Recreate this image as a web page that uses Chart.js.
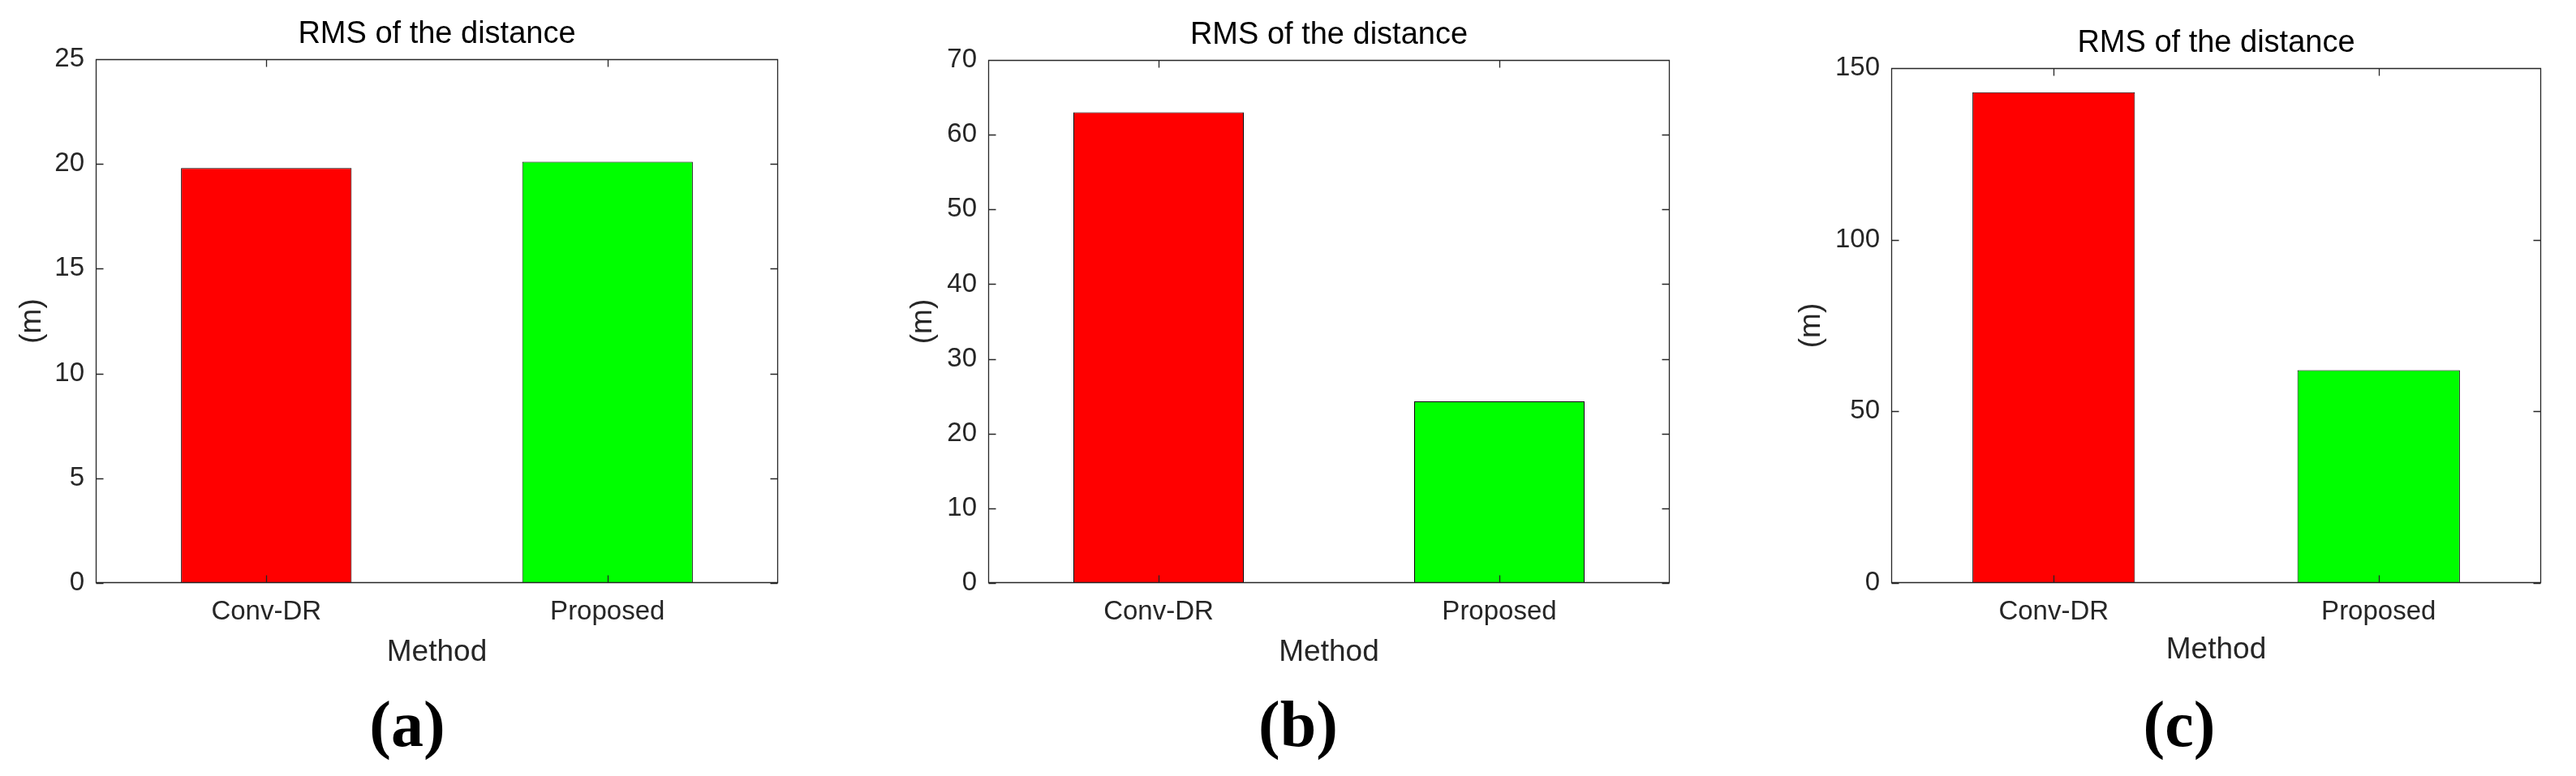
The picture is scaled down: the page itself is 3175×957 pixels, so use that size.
<!DOCTYPE html>
<html>
<head>
<meta charset="utf-8">
<script src="https://cdn.jsdelivr.net/npm/chart.js@4.4.1/dist/chart.umd.min.js"></script>
<style>
  html, body { margin: 0; padding: 0; background: #fff; }
  body { width: 3175px; height: 957px; position: relative; overflow: hidden; }
  canvas { position: absolute; top: 0; }
  .cap { position: absolute; font-family: 'Liberation Serif', 'Times New Roman', serif; font-weight: bold;
         font-size: 80px; line-height: 80px; color: #000; transform: translateX(-50%); white-space: nowrap; }
</style>
</head>
<body>
<canvas id="cA" width="980" height="840" style="left:0px"></canvas>
<canvas id="cB" width="1030" height="840" style="left:1050px"></canvas>
<canvas id="cC" width="1010" height="840" style="left:2150px"></canvas>
<div class="cap" style="left:502px; top:853px">(a)</div>
<div class="cap" style="left:1600px; top:853px">(b)</div>
<div class="cap" style="left:2686px; top:853px">(c)</div>
<script>
// ---- data ----
const categories = ['Conv-DR', 'Proposed'];
const rmsA = [19.8, 20.1];
const rmsB = [63.0, 24.3];
const rmsC = [143.0, 62.0];
const barColors = ['#ff0000', '#00ff00'];
const yMaxA = 25, yStepA = 5;
const yMaxB = 70, yStepB = 10;
const yMaxC = 150, yStepC = 50;
const chartTitle = 'RMS of the distance';
const xTitle = 'Method';
const yTitle = '(m)';

const FONT = "'Liberation Sans', Arial, Helvetica, sans-serif";
const AX = '#262626';
const TITLE_SIZE = 38, LABEL_SIZE = 37, TICK_SIZE = 33;

// box with inward ticks on all four sides (MATLAB style)
const boxPlugin = {
  id: 'matlabBox',
  afterDatasetsDraw(chart) {
    const {ctx, chartArea: a, scales} = chart;
    const L = Math.round(a.left) + 0.5, R = Math.round(a.right) - 0.5;
    const T = Math.round(a.top) + 0.5, B = Math.round(a.bottom) - 0.5;
    const tl = 9;
    ctx.save();
    ctx.strokeStyle = AX;
    ctx.lineWidth = 1.3;
    ctx.beginPath();
    ctx.rect(L, T, R - L, B - T);
    const ys = scales.y;
    ys.ticks.forEach((t, i) => {
      const py = Math.round(ys.getPixelForTick(i)) + 0.5;
      ctx.moveTo(L, py); ctx.lineTo(L + tl, py);
      ctx.moveTo(R, py); ctx.lineTo(R - tl, py);
    });
    const xs = scales.x;
    xs.ticks.forEach((t, i) => {
      const px = Math.round(xs.getPixelForTick(i)) + 0.5;
      ctx.moveTo(px, B); ctx.lineTo(px, B - tl);
      ctx.moveTo(px, T); ctx.lineTo(px, T + tl);
    });
    ctx.stroke();
    ctx.restore();
  }
};

function makeChart(id, values, yMax, yStep, geo) {
  const tHalf = TITLE_SIZE * 1.2 / 2, lHalf = LABEL_SIZE * 1.2 / 2, kHalf = TICK_SIZE * 1.2 / 2;
  return new Chart(document.getElementById(id), {
    type: 'bar',
    data: {
      labels: categories,
      datasets: [{
        data: values,
        backgroundColor: barColors,
        borderColor: '#000',
        borderWidth: 1,
        borderSkipped: false,
        barPercentage: 0.5,
        categoryPercentage: 1.0
      }]
    },
    options: {
      responsive: false,
      animation: false,
      devicePixelRatio: 1,
      layout: { padding: { left: 0, right: geo.padRight, top: 0, bottom: 0 } },
      plugins: {
        legend: { display: false },
        tooltip: { enabled: false },
        title: {
          display: true, text: chartTitle, color: '#000', fullSize: false,
          font: { family: FONT, size: TITLE_SIZE, weight: 'normal', lineHeight: 1.2 },
          padding: { top: geo.plotTop - 30 - tHalf, bottom: 30 - tHalf }
        }
      },
      scales: {
        x: {
          grid: { display: false, drawTicks: false },
          border: { display: false },
          ticks: { color: AX, font: { family: FONT, size: TICK_SIZE }, padding: 755 - geo.plotBottom - kHalf },
          title: { display: true, text: xTitle, color: AX,
                   font: { family: FONT, size: LABEL_SIZE, lineHeight: 1.2 },
                   padding: { top: 0, bottom: 840 - geo.xTitleY - lHalf } },
          afterFit(s) { s.height = 840 - geo.plotBottom; }
        },
        y: {
          min: 0, max: yMax,
          grid: { display: false, drawTicks: false },
          border: { display: false },
          ticks: { stepSize: yStep, color: AX, font: { family: FONT, size: TICK_SIZE }, padding: 14 },
          title: { display: true, text: yTitle, color: AX,
                   font: { family: FONT, size: LABEL_SIZE, lineHeight: 1.2 },
                   padding: { top: geo.yTitleX - lHalf, bottom: 0 } },
          afterFit(s) { s.width = geo.yWidth; }
        }
      }
    },
    plugins: [boxPlugin]
  });
}

// panel A: plot x 118..959, y 73..719
makeChart('cA', rmsA, yMaxA, yStepA, { padRight: 980 - 959, plotTop: 73, plotBottom: 719, xTitleY: 805, yWidth: 118, yTitleX: 40 });
// panel B: plot x 1218..2058, y 74..719
makeChart('cB', rmsB, yMaxB, yStepB, { padRight: 2080 - 2058, plotTop: 74, plotBottom: 719, xTitleY: 805, yWidth: 1218 - 1050, yTitleX: 1138 - 1050 });
// panel C: plot x 2331..3132, y 84..719
makeChart('cC', rmsC, yMaxC, yStepC, { padRight: 3160 - 3132, plotTop: 84, plotBottom: 719, xTitleY: 802, yWidth: 2331 - 2150, yTitleX: 2233 - 2150 });
</script>
</body>
</html>
